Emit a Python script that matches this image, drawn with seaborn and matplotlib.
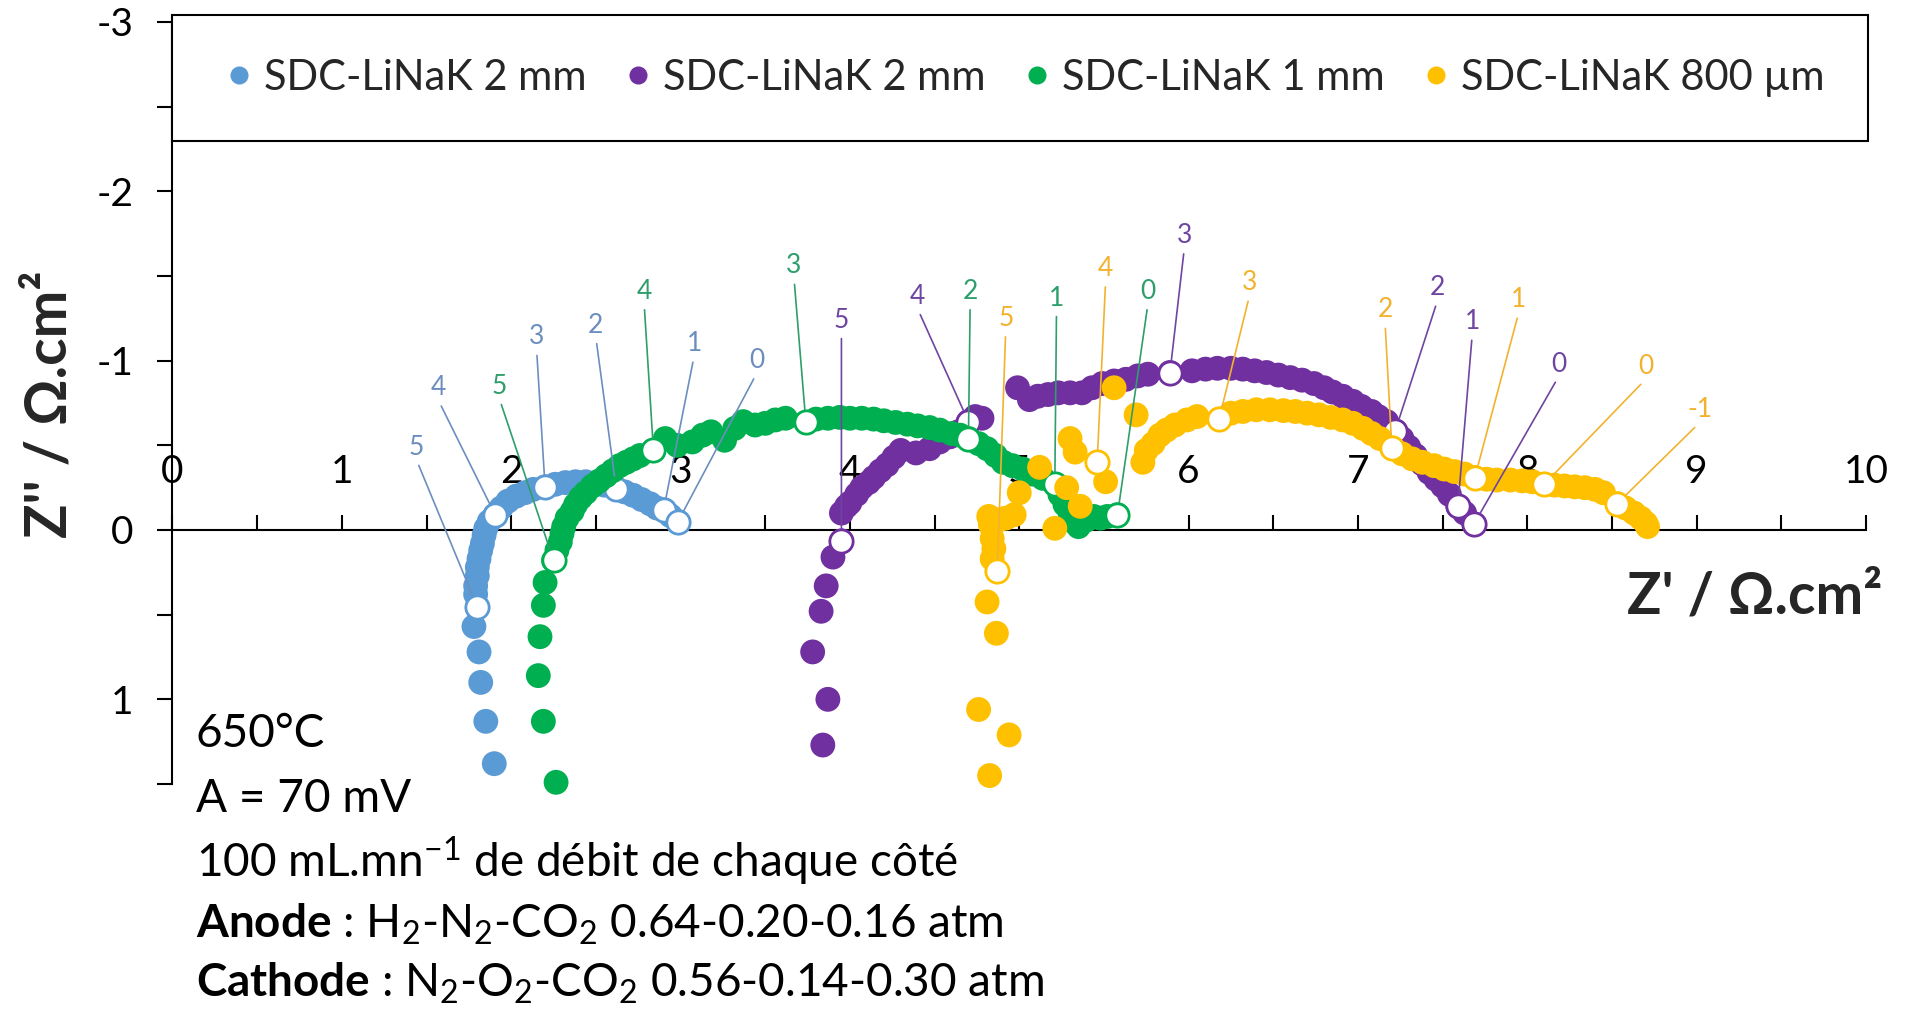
import matplotlib
matplotlib.use("Agg")
import matplotlib.pyplot as plt
from matplotlib.lines import Line2D
from matplotlib.ticker import MultipleLocator, NullFormatter
import seaborn as sns

# ---------------------------------------------------------------- data ----
# Nyquist spectra, Z' (ohm.cm2) and Z'' (ohm.cm2), high -> low frequency
blue_x = [1.90, 1.85, 1.82, 1.81, 1.78, 1.80, 1.79, 1.79, 1.80, 1.80, 1.81, 1.82,
          1.83, 1.84, 1.85, 1.87, 1.905, 1.94, 1.98, 2.03, 2.08, 2.13, 2.20, 2.26,
          2.32, 2.38, 2.44, 2.50, 2.55, 2.62, 2.67, 2.72, 2.77, 2.82, 2.86, 2.90,
          2.94, 2.985]
blue_y = [1.38, 1.13, 0.90, 0.72, 0.57, 0.455, 0.38, 0.33, 0.27, 0.22, 0.17, 0.12,
          0.08, 0.03, -0.01, -0.05, -0.09, -0.13, -0.17, -0.20, -0.22, -0.24, -0.255,
          -0.27, -0.28, -0.285, -0.285, -0.28, -0.265, -0.245, -0.225, -0.205, -0.18,
          -0.155, -0.13, -0.12, -0.085, -0.05]

purple_x = [3.84, 3.87, 3.78, 3.83, 3.86, 3.90, 3.95, 3.95, 3.98, 4.00, 4.04, 4.07,
            4.11, 4.14, 4.18, 4.22, 4.26, 4.30, 4.39, 4.47, 4.53, 4.59, 4.64, 4.70,
            4.74, 4.78, 4.99, 5.06, 5.11, 5.17, 5.23, 5.30, 5.37, 5.43, 5.49, 5.56,
            5.63, 5.70, 5.76, 5.89, 6.02, 6.10, 6.17, 6.25, 6.32, 6.39, 6.46, 6.53,
            6.60, 6.67, 6.74, 6.80, 6.85, 6.91, 6.97, 7.02, 7.08, 7.12, 7.17, 7.22,
            7.26, 7.30, 7.34, 7.38, 7.42, 7.46, 7.50, 7.54, 7.59, 7.63, 7.685]
purple_y = [1.27, 1.00, 0.72, 0.48, 0.33, 0.16, 0.065, -0.10, -0.14, -0.16, -0.21,
            -0.25, -0.28, -0.31, -0.35, -0.385, -0.43, -0.47, -0.455, -0.48, -0.52,
            -0.55, -0.58, -0.64, -0.67, -0.66, -0.84, -0.77, -0.79, -0.80, -0.81,
            -0.81, -0.81, -0.84, -0.865, -0.88, -0.89, -0.91, -0.92, -0.93, -0.94,
            -0.95, -0.955, -0.955, -0.95, -0.94, -0.93, -0.915, -0.90, -0.885, -0.865,
            -0.84, -0.815, -0.79, -0.76, -0.73, -0.70, -0.67, -0.64, -0.585, -0.54,
            -0.49, -0.44, -0.39, -0.34, -0.30, -0.26, -0.21, -0.14, -0.10, -0.035]

green_x = [2.265, 2.19, 2.16, 2.17, 2.19, 2.20, 2.25, 2.27, 2.29, 2.30, 2.31, 2.33,
           2.36, 2.38, 2.41, 2.44, 2.48, 2.52, 2.56, 2.60, 2.64, 2.68, 2.72, 2.76,
           2.84, 2.91, 2.98, 3.07, 3.13, 3.18, 3.26, 3.32, 3.37, 3.44, 3.50, 3.56,
           3.62, 3.74, 3.80, 3.87, 3.94, 4.00, 4.07, 4.14, 4.20, 4.27, 4.34, 4.40,
           4.47, 4.53, 4.60, 4.65, 4.70, 4.76, 4.81, 4.86, 4.905, 4.96, 5.02, 5.08,
           5.14, 5.21, 5.24, 5.27, 5.30, 5.32, 5.35, 5.40, 5.44, 5.48, 5.52, 5.58]
green_y = [1.49, 1.13, 0.86, 0.63, 0.445, 0.31, 0.18, 0.12, 0.07, 0.02, -0.02, -0.07,
           -0.11, -0.15, -0.19, -0.22, -0.26, -0.29, -0.32, -0.35, -0.38, -0.40, -0.42,
           -0.44, -0.47, -0.54, -0.50, -0.52, -0.56, -0.58, -0.53, -0.60, -0.64, -0.62,
           -0.63, -0.65, -0.66, -0.635, -0.655, -0.66, -0.665, -0.66, -0.66, -0.655,
           -0.645, -0.635, -0.625, -0.615, -0.605, -0.59, -0.57, -0.56, -0.54, -0.51,
           -0.48, -0.44, -0.40, -0.38, -0.36, -0.33, -0.305, -0.27, -0.21, -0.15,
           -0.10, -0.05, -0.02, -0.06, -0.08, -0.07, -0.08, -0.09]

yellow_x = [4.825, 4.94, 4.76, 4.865, 4.81, 4.87, 4.84, 4.85, 4.84, 4.83, 4.82, 4.88,
            4.92, 4.97, 5.00, 5.12, 5.21, 5.28, 5.36, 5.30, 5.33, 5.46, 5.51, 5.56,
            5.69, 5.73, 5.75, 5.79, 5.83, 5.87, 5.92, 5.99, 6.05, 6.18, 6.25, 6.32,
            6.40, 6.48, 6.56, 6.63, 6.70, 6.77, 6.84, 6.91, 6.97, 7.03, 7.08, 7.13,
            7.20, 7.26, 7.32, 7.38, 7.45, 7.51, 7.57, 7.63, 7.69, 7.76, 7.82, 7.90,
            7.97, 8.03, 8.10, 8.16, 8.22, 8.28, 8.34, 8.40, 8.45, 8.53, 8.58, 8.63,
            8.67, 8.70, 8.71]
yellow_y = [1.45, 1.21, 1.06, 0.61, 0.425, 0.245, 0.17, 0.11, 0.05, -0.03, -0.08,
            -0.06, -0.07, -0.09, -0.22, -0.37, -0.01, -0.25, -0.14, -0.54, -0.46,
            -0.40, -0.285, -0.84, -0.68, -0.40, -0.47, -0.51, -0.56, -0.59, -0.62,
            -0.65, -0.67, -0.655, -0.69, -0.70, -0.71, -0.71, -0.705, -0.70, -0.69,
            -0.68, -0.665, -0.65, -0.63, -0.60, -0.57, -0.54, -0.485, -0.45, -0.42,
            -0.40, -0.38, -0.36, -0.345, -0.33, -0.31, -0.30, -0.295, -0.295, -0.29,
            -0.285, -0.27, -0.265, -0.26, -0.255, -0.25, -0.24, -0.22, -0.155, -0.13,
            -0.10, -0.07, -0.04, -0.02]

# frequency-decade markers (log10 f) and the position of their labels
blue_dec = ["5", "4", "3", "2", "1", "0"]
blue_dec_x = [1.80, 1.905, 2.20, 2.62, 2.90, 2.985]
blue_dec_y = [0.455, -0.09, -0.255, -0.245, -0.12, -0.05]
blue_lab_x = [1.44, 1.57, 2.15, 2.50, 3.08, 3.45]
blue_lab_y = [-0.49, -0.84, -1.14, -1.21, -1.10, -1.00]

purple_dec = ["5", "4", "3", "2", "1", "0"]
purple_dec_x = [3.95, 4.70, 5.89, 7.22, 7.59, 7.685]
purple_dec_y = [0.065, -0.64, -0.93, -0.585, -0.14, -0.035]
purple_lab_x = [3.95, 4.40, 5.975, 7.47, 7.675, 8.185]
purple_lab_y = [-1.24, -1.38, -1.74, -1.43, -1.23, -0.98]

green_dec = ["5", "4", "3", "2", "1", "0"]
green_dec_x = [2.25, 2.84, 3.74, 4.70, 5.21, 5.58]
green_dec_y = [0.18, -0.47, -0.635, -0.54, -0.27, -0.09]
green_lab_x = [1.93, 2.785, 3.67, 4.71, 5.22, 5.76]
green_lab_y = [-0.85, -1.41, -1.56, -1.41, -1.37, -1.41]

yellow_dec = ["5", "4", "3", "2", "1", "0", "-1"]
yellow_dec_x = [4.87, 5.46, 6.18, 7.20, 7.69, 8.10, 8.53]
yellow_dec_y = [0.245, -0.40, -0.655, -0.485, -0.31, -0.27, -0.155]
yellow_lab_x = [4.92, 5.51, 6.36, 7.16, 7.95, 8.70, 9.02]
yellow_lab_y = [-1.25, -1.545, -1.46, -1.30, -1.36, -0.965, -0.71]

series_names = ["SDC-LiNaK 2 mm", "SDC-LiNaK 2 mm", "SDC-LiNaK 1 mm",
                "SDC-LiNaK 800 µm"]

x_ticks = list(range(0, 11))
y_ticks = [-3, -2, -1, 0, 1]

# ---------------------------------------------------------------- style ---
sns.set_theme(style="white")
plt.rcParams["font.family"] = ["Lato", "DejaVu Sans"]
plt.rcParams["mathtext.fontset"] = "custom"
plt.rcParams["mathtext.rm"] = "Lato"
plt.rcParams["mathtext.it"] = "Lato:italic"
plt.rcParams["mathtext.bf"] = "Lato:bold"

colors = ["#5B9BD5", "#7030A0", "#00B050", "#FFC000"]
label_colors = ["#6C8EBF", "#6E45A0", "#2E9E6B", "#F2B22E"]

W, H = 1906, 1016
fig = plt.figure(figsize=(W / 100, H / 100), dpi=100)
fig.patch.set_facecolor("white")

# axes box: x 0..10 and Z'' -3..1.5 with equal scaling
ax_left, ax_right = 172.5, 1866.0
ax_top, ax_bottom = 22.0, 784.0
ax = fig.add_axes([ax_left / W, 1 - ax_bottom / H,
                   (ax_right - ax_left) / W, (ax_bottom - ax_top) / H])
ax.set_facecolor("white")
ax.set_xlim(0, 10)
ax.set_ylim(1.5, -3)

MS = 320
series = [
    (blue_x, blue_y, blue_dec, blue_dec_x, blue_dec_y, blue_lab_x, blue_lab_y),
    (purple_x, purple_y, purple_dec, purple_dec_x, purple_dec_y, purple_lab_x, purple_lab_y),
    (green_x, green_y, green_dec, green_dec_x, green_dec_y, green_lab_x, green_lab_y),
    (yellow_x, yellow_y, yellow_dec, yellow_dec_x, yellow_dec_y, yellow_lab_x, yellow_lab_y),
]

z = 3
for i, (sx, sy, dec, dx, dy, lx, ly) in enumerate(series):
    sns.scatterplot(x=sx, y=sy, ax=ax, color=colors[i], s=MS, linewidth=0,
                    edgecolor="none", legend=False, zorder=z, clip_on=False)
    sns.scatterplot(x=dx, y=dy, ax=ax, color="white", s=MS * 0.88, linewidth=2.0,
                    edgecolor=colors[i], legend=False, zorder=z + 0.5, clip_on=False)
    z += 1

# decade labels with leader lines
for i, (sx, sy, dec, dx, dy, lx, ly) in enumerate(series):
    for t, px, py, tx, ty in zip(dec, dx, dy, lx, ly):
        ax.annotate(t, xy=(px, py), xytext=(tx, ty), textcoords="data",
                    ha="center", va="center", fontsize=19, color=label_colors[i],
                    zorder=10, annotation_clip=False,
                    arrowprops=dict(arrowstyle="-", color=label_colors[i], lw=1.2,
                                    shrinkA=2, shrinkB=9, relpos=(0.5, 0.0)))

# axes lines
for s in ["top", "right"]:
    ax.spines[s].set_visible(False)
ax.spines["bottom"].set_position(("data", 0))
for s in ["left", "bottom"]:
    ax.spines[s].set_color("black")
    ax.spines[s].set_linewidth(1.5)

ax.set_xticks(x_ticks)
ax.set_xticklabels([str(v) for v in x_ticks])
ax.set_yticks(y_ticks)
ax.set_yticklabels([str(v) for v in y_ticks])
ax.xaxis.set_minor_locator(MultipleLocator(0.5))
ax.yaxis.set_minor_locator(MultipleLocator(0.5))
ax.xaxis.set_minor_formatter(NullFormatter())
ax.yaxis.set_minor_formatter(NullFormatter())
ax.tick_params(axis="x", which="both", direction="in", length=11, width=1.5,
               color="black", bottom=True, top=False)
ax.tick_params(axis="x", which="major", labelsize=28, pad=-55, labelcolor="black")
ax.tick_params(axis="y", which="both", direction="out", length=11, width=1.5,
               color="black", left=True, right=False)
ax.tick_params(axis="y", which="major", labelsize=28, pad=17, labelcolor="black")
ax.grid(False)

ax.set_xlabel("Z' / Ω.cm²", fontsize=41, fontweight="bold", va="center")
ax.xaxis.set_label_coords((1755 - ax_left) / (ax_right - ax_left),
                          (ax_bottom - 597) / (ax_bottom - ax_top))
ax.set_ylabel("Z'' / Ω.cm²", fontsize=41, fontweight="bold", va="center")
ax.yaxis.set_label_coords((50 - ax_left) / (ax_right - ax_left),
                          (ax_bottom - 404) / (ax_bottom - ax_top))

# legend across the top of the plot
handles = [Line2D([0], [0], marker="o", linestyle="none", markersize=13,
                  markerfacecolor=c, markeredgecolor="none") for c in colors]
leg_x0, leg_x1, leg_y0, leg_y1 = 172.5, 1868.0, 16.0, 140.0
leg = fig.legend(handles, series_names, ncol=4, mode="expand", loc="center",
                 bbox_to_anchor=(leg_x0 / W, 1 - leg_y1 / H,
                                 (leg_x1 - leg_x0) / W, (leg_y1 - leg_y0) / H),
                 bbox_transform=fig.transFigure, fontsize=30, frameon=True,
                 fancybox=False, framealpha=1, edgecolor="black",
                 borderpad=1.05, borderaxespad=0, handlelength=1.1,
                 handletextpad=0.05, columnspacing=1.0)
leg.get_frame().set_linewidth(1.5)

# operating conditions
lines = [
    "650°C",
    "A = 70 mV",
    "100 mL.mn$^{-1}$ de débit de chaque côté",
    r"$\mathbf{Anode}$ : H$_2$-N$_2$-CO$_2$ 0.64-0.20-0.16 atm",
    r"$\mathbf{Cathode}$ : N$_2$-O$_2$-CO$_2$ 0.56-0.14-0.30 atm",
]
baselines = [746.7, 811.7, 876.7, 938.0, 996.7]
for txt, b in zip(lines, baselines):
    fig.text(196 / W, 1 - b / H, txt, fontsize=33, color="black",
             ha="left", va="baseline")

fig.savefig("out.png", dpi=100, facecolor="white")
